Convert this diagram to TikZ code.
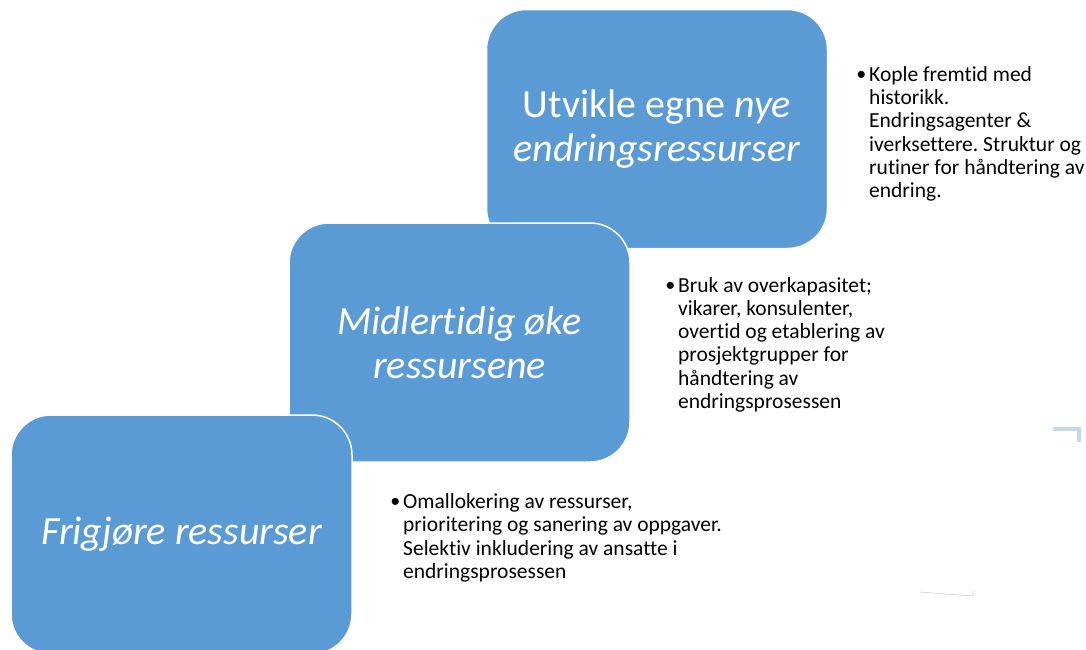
\documentclass[tikz,border=0pt]{standalone}
\usepackage{fontspec}
\setmainfont{Carlito}[Ligatures=NoCommon]
\usetikzlibrary{positioning}
\definecolor{stageblue}{RGB}{91,155,213}
\definecolor{paleblue}{RGB}{198,214,236}
\frenchspacing

\tikzset{
  stage/.style={draw=white, line width=1.5pt, fill=stageblue, rounded corners=40pt, minimum width=341pt, minimum height=239pt, text=white, align=center, font=\fontsize{40}{44}\selectfont},
  bulletmark/.style={inner sep=0pt, font=\fontsize{20}{23.3}\selectfont},
  bulltext/.style={inner sep=0pt, align=left, font=\fontsize{21.5}{23.3}\selectfont}
}

\begin{document}
\begin{tikzpicture}[x=1pt, y=-1pt]

\useasboundingbox (0,0) rectangle (1086,649);

\node [stage]  (nye) at (657,129) {Utvikle egne \textit{nye}\\ \textit{endringsressurser}};
\node [stage, font=\fontsize{40}{44}\selectfont\itshape]  (midlertidig) at (459.5,342.5) {Midlertidig øke\\ ressursene};
\node [stage, font=\fontsize{40}{44}\selectfont\itshape]  (frigjore) at (181.5,534.5) {Frigjøre ressurser};

\node [bulltext, anchor=north west]  (text_nye) at (869,64.7) {\strut Kople fremtid med\\ historikk.\\ Endringsagenter \&\\ iverksettere. Struktur og\\ rutiner for håndtering av\\ endring.};
\node [bulletmark, left=2.5pt of text_nye.north west, anchor=north east, yshift=1pt]  (mark_nye) {\strut\textbullet};

\node [bulltext, anchor=north west]  (text_midlertidig) at (678,275.5) {\strut Bruk av overkapasitet;\\ vikarer, konsulenter,\\ overtid og etablering av\\ prosjektgrupper for\\ håndtering av\\ endringsprosessen};
\node [bulletmark, left=2.5pt of text_midlertidig.north west, anchor=north east, yshift=1pt]  (mark_midlertidig) {\strut\textbullet};

\node [bulltext, anchor=north west]  (text_frigjore) at (403,492) {\strut Omallokering av ressurser,\\ prioritering og sanering av oppgaver.\\ Selektiv inkludering av ansatte i\\ endringsprosessen};
\node [bulletmark, left=2.5pt of text_frigjore.north west, anchor=north east, yshift=1pt]  (mark_frigjore) {\strut\textbullet};

\draw [paleblue, line width=3.5pt] (1053,429) -- (1079,429) -- (1079,442);
\draw [black!20, line width=0.6pt] (920,592) -- (973,596) -- (973,591);

\end{tikzpicture}
\end{document}
